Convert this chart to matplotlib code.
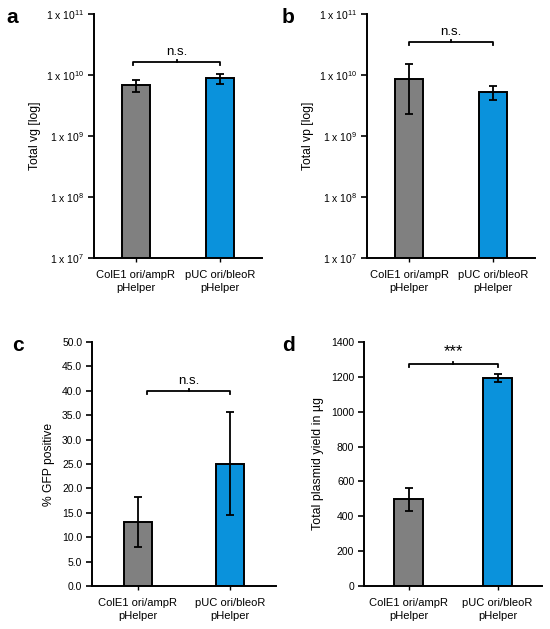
import matplotlib
matplotlib.use("Agg")
import matplotlib.pyplot as plt
from matplotlib.ticker import FixedLocator, FixedFormatter, NullLocator

plt.rcParams['font.family'] = ['Liberation Sans', 'DejaVu Sans']
plt.rcParams['mathtext.default'] = 'regular'

# data
groups = ["ColE1 ori/ampR\npHelper", "pUC ori/bleoR\npHelper"]
colors = ["#808080", "#0A92DC"]

vg_mean = [6.8e9, 8.8e9]
vg_err = [1.6e9, 1.7e9]

vp_mean = [8.7e9, 5.3e9]
vp_err = [6.4e9, 1.4e9]

gfp_mean = [13.15, 25.1]
gfp_err = [5.15, 10.6]

yield_mean = [497, 1194]
yield_err = [67, 22]

log_ticks = [1e7, 1e8, 1e9, 1e10, 1e11]
log_labels = ["1 x 10$^{7}$", "1 x 10$^{8}$", "1 x 10$^{9}$", "1 x 10$^{10}$", "1 x 10$^{11}$"]

W, H = 550, 629


def px_axes(fig, l, r, t, b):
    return fig.add_axes([l / W, 1 - b / H, (r - l) / W, (b - t) / H])


def style(ax):
    for s in ["top", "right"]:
        ax.spines[s].set_visible(False)
    for s in ["left", "bottom"]:
        ax.spines[s].set_linewidth(1.4)
    ax.tick_params(axis="y", length=4, width=1.2, labelsize=7.5, pad=3)
    ax.tick_params(axis="x", length=3, width=1.0, labelsize=8, pad=6)
    ax.set_xlim(-0.5, 1.5)
    ax.set_xticks([0, 1])
    ax.set_xticklabels(groups, linespacing=1.35)


def bars(ax, mean, err, width):
    ax.bar([0, 1], mean, width=width, color=colors, edgecolor="black",
           linewidth=1.4, yerr=err, error_kw=dict(ecolor="black", elinewidth=1.3,
                                                   capsize=3, capthick=1.3), zorder=2)


def bracket(ax, y, drop, rise, text, log=False, x0=-0.03, x1=1.0, size=9.5):
    if log:
        yd, yu = y / drop, y * rise
    else:
        yd, yu = y - drop, y + rise
    ax.plot([x0, x0, x1, x1], [yd, y, y, yd], color="black", lw=1.3, clip_on=False)
    xc = (x0 + x1) / 2
    ax.plot([xc, xc], [y, yu], color="black", lw=1.3, clip_on=False)
    ax.annotate(text, (xc, y), xytext=(0, 3), textcoords="offset points",
                ha="center", va="bottom", fontsize=size)


fig = plt.figure(figsize=(W / 100, H / 100), dpi=100)

# a
ax = px_axes(fig, 94, 262, 14, 258)
bars(ax, vg_mean, vg_err, 0.33)
ax.set_yscale("log")
ax.set_ylim(1e7, 1e11)
ax.yaxis.set_major_locator(FixedLocator(log_ticks))
ax.yaxis.set_major_formatter(FixedFormatter(log_labels))
ax.yaxis.set_minor_locator(NullLocator())
style(ax)
ax.set_ylabel("Total vg [log]", fontsize=8.7, labelpad=4)
bracket(ax, 1.65e10, 1.13, 1.07, "n.s.", log=True)

# b
ax = px_axes(fig, 367, 535, 14, 258)
bars(ax, vp_mean, vp_err, 0.33)
ax.set_yscale("log")
ax.set_ylim(1e7, 1e11)
ax.yaxis.set_major_locator(FixedLocator(log_ticks))
ax.yaxis.set_major_formatter(FixedFormatter(log_labels))
ax.yaxis.set_minor_locator(NullLocator())
style(ax)
ax.set_ylabel("Total vp [log]", fontsize=8.7, labelpad=4)
bracket(ax, 3.5e10, 1.13, 1.07, "n.s.", log=True, x0=0.0, x1=1.0)

# c
ax = px_axes(fig, 92, 276, 342, 586)
bars(ax, gfp_mean, gfp_err, 0.31)
ax.set_ylim(0, 50)
ax.set_yticks([i * 5 for i in range(11)])
ax.set_yticklabels(["%.1f" % (i * 5) for i in range(11)])
style(ax)
ax.set_ylabel("% GFP positive", fontsize=8.7, labelpad=5)
bracket(ax, 40, 0.7, 0.4, "n.s.", x0=0.1, x1=1.0)

# d
ax = px_axes(fig, 364, 542, 342, 586)
bars(ax, yield_mean, yield_err, 0.32)
ax.set_ylim(0, 1400)
ax.set_yticks(range(0, 1401, 200))
style(ax)
ax.set_ylabel("Total plasmid yield in µg", fontsize=8.9, labelpad=5)
bracket(ax, 1275, 20, 12, "***", x0=0.0, x1=1.0, size=12)

for lbl, x, y in [("a", 6, 8), ("b", 282, 8), ("c", 12, 336), ("d", 282, 336)]:
    fig.text(x / W, 1 - y / H, lbl, fontsize=15, fontweight="bold", va="top", ha="left")

fig.savefig("out.png", dpi=100)
